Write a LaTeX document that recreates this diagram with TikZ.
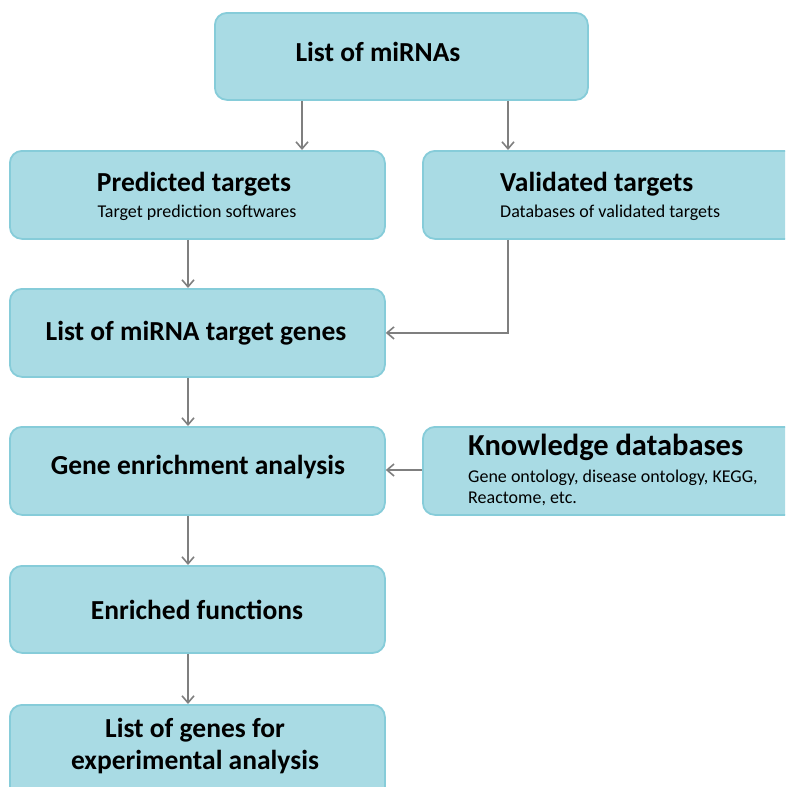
\documentclass[tikz,border=0pt]{standalone}
\usepackage{fontspec}
\setmainfont{Carlito}
\usetikzlibrary{arrows.meta}
\definecolor{boxfill}{HTML}{A9DBE4}
\definecolor{boxline}{HTML}{86CCD9}
\definecolor{arrowgray}{HTML}{7F7F7F}
\tikzset{
  stepbox/.style={draw=boxline, line width=1.8pt, fill=boxfill, rounded corners=12pt, rectangle, inner sep=0pt},
  bigtext/.style={font=\bfseries\fontsize{27.5}{32}\selectfont, align=center, inner sep=0pt},
  subtext/.style={font=\fontsize{18}{21}\selectfont, align=left, inner sep=0pt},
  flow/.style={draw=arrowgray, line width=1.8pt, -{Straight Barb[length=7pt,width=12pt,line width=1.6pt]}},
}
\begin{document}
\begin{tikzpicture}[x=1pt,y=-1pt]
\useasboundingbox (0,0) rectangle (785,787);
\clip (0,0) rectangle (785,787);
% boxes
\node[stepbox, minimum width=373pt, minimum height=87pt, anchor=north west] (mirna) at (214,12) {};
\node[stepbox, minimum width=375pt, minimum height=88pt, anchor=north west] (pred) at (9,150) {};
\node[stepbox, minimum width=380pt, minimum height=88pt, anchor=north west] (valid) at (422,150) {};
\node[stepbox, minimum width=375pt, minimum height=88pt, anchor=north west] (targ) at (9,288) {};
\node[stepbox, minimum width=375pt, minimum height=88pt, anchor=north west] (gene) at (9,426) {};
\node[stepbox, minimum width=380pt, minimum height=88pt, anchor=north west] (know) at (422,426) {};
\node[stepbox, minimum width=375pt, minimum height=87pt, anchor=north west] (enr) at (9,565) {};
\node[stepbox, minimum width=375pt, minimum height=95pt, anchor=north west] (list) at (9,704) {};
% texts
\node[bigtext] (tmirna) at (378,52) {List of miRNAs};
\node[bigtext] (tpred) at (194,184) {Predicted targets};
\node[subtext] (spred) at (197,213) {Target prediction softwares};
\node[bigtext, anchor=west] (tvalid) at (500,184) {Validated targets};
\node[subtext, anchor=west] (svalid) at (500,213) {Databases of validated targets};
\node[bigtext] (ttarg) at (196,333) {List of miRNA target genes};
\node[bigtext] (tgene) at (198,467) {Gene enrichment analysis};
\node[bigtext, anchor=west, font=\bfseries\fontsize{30.5}{34}\selectfont] (tknow) at (468,447) {Knowledge databases};
\node[subtext, anchor=north west] (sknow) at (468,470) {Gene ontology, disease ontology, KEGG,\\Reactome, etc.};
\node[bigtext] (tenr) at (197,610) {Enriched functions};
\node[bigtext] (tlist) at (195,746) {List of genes for\\experimental analysis};
% connectors
\coordinate (a1) at (302,0);
\coordinate (a2) at (508,0);
\coordinate (c1) at (188,0);
\draw[flow] (mirna.south -| a1) -- (pred.north -| a1);
\draw[flow] (mirna.south -| a2) -- (valid.north -| a2);
\draw[flow] (pred.south -| c1) -- (targ.north -| c1);
\draw[flow] (valid.south -| a2) |- (targ.east);
\draw[flow] (targ.south -| c1) -- (gene.north -| c1);
\draw[flow] (know.west |- 0,470) -- (gene.east |- 0,470);
\draw[flow] (gene.south -| c1) -- (enr.north -| c1);
\draw[flow] (enr.south -| c1) -- (list.north -| c1);
\end{tikzpicture}
\end{document}
